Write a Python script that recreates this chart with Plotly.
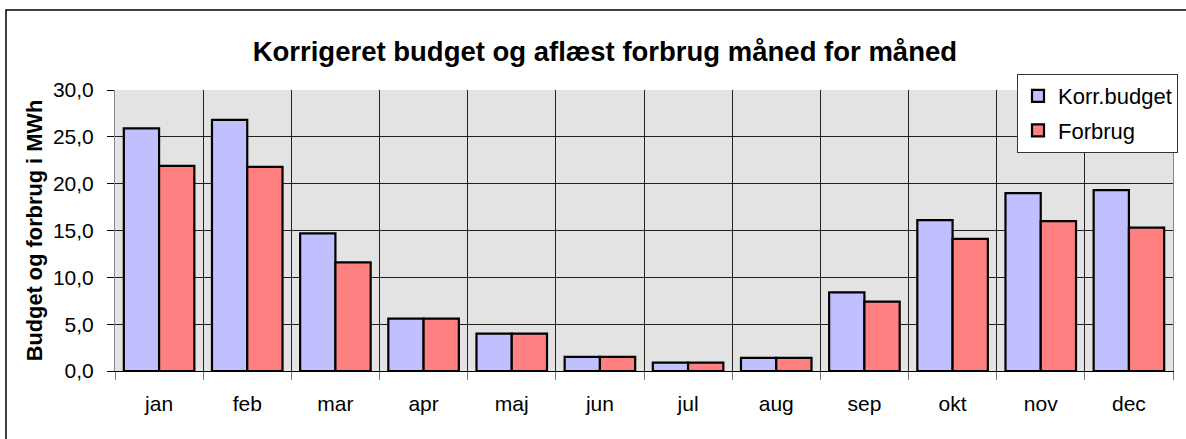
import plotly.graph_objects as go

months = ["jan", "feb", "mar", "apr", "maj", "jun", "jul", "aug", "sep", "okt", "nov", "dec"]
korr_budget = [25.9, 26.8, 14.7, 5.6, 4.0, 1.5, 0.9, 1.4, 8.4, 16.1, 19.0, 19.3]
forbrug = [21.9, 21.8, 11.6, 5.6, 4.0, 1.5, 0.9, 1.4, 7.4, 14.1, 16.0, 15.3]
y_ticks = [0, 5, 10, 15, 20, 25, 30]

FONT = "Liberation Sans, Arial, sans-serif"

fig = go.Figure()
fig.add_trace(go.Bar(x=months, y=korr_budget, name="Korr.budget", legendgroup="a",
                     marker=dict(color="#c0c0ff", line=dict(color="black", width=2.2))))
fig.add_trace(go.Bar(x=months, y=forbrug, name="Forbrug", legendgroup="b",
                     marker=dict(color="#ff8080", line=dict(color="black", width=2.2))))

fig.update_layout(
    width=1186, height=439,
    margin=dict(l=115, r=13, t=90, b=68, autoexpand=False),
    paper_bgcolor="white",
    plot_bgcolor="#e3e3e3",
    separators=",.",
    barmode="group",
    bargap=0.2,
    bargroupgap=0,
    font=dict(family=FONT, color="black", size=20),
    title=dict(text="<b>Korrigeret budget og aflæst forbrug måned for måned</b>",
               x=0.463, xanchor="center", xref="paper",
               y=1 - 51 / 439, yanchor="middle",
               font=dict(size=27.5, family=FONT)),
    legend=dict(x=(1017 - 115) / 1058, y=1 + (90 - 74) / 281,
                xanchor="left", yanchor="top",
                bgcolor="white", bordercolor="#333333", borderwidth=1,
                font=dict(size=22, family=FONT),
                traceorder="grouped", tracegroupgap=3,
                itemwidth=30),
    showlegend=True,
)

fig.update_xaxes(
    type="category",
    automargin=False,
    tickson="boundaries",
    ticks="outside", ticklen=8, tickcolor="#777777", tickwidth=1,
    showgrid=True, gridcolor="#222222", gridwidth=1,
    showline=True, linecolor="black", linewidth=1,
    tickfont=dict(size=21, family=FONT),
    ticklabelstandoff=14,
)
fig.update_yaxes(
    automargin=False,
    range=[0, 30],
    tickvals=y_ticks,
    tickformat=".1f",
    ticks="outside", ticklen=7, tickcolor="black",
    showgrid=True, gridcolor="#222222", gridwidth=1,
    showline=True, linecolor="#888888", linewidth=1, mirror=True,
    zeroline=False,
    tickfont=dict(size=21, family=FONT),
    ticklabelstandoff=9,
    title=dict(text="<b>Budget og forbrug i MWh</b>", standoff=4,
               font=dict(size=21.8, family=FONT)),
)

# outer chart-area border (Excel style)
fig.add_shape(type="rect", xref="paper", yref="paper",
              x0=(6 - 115) / 1058, x1=1.03, y0=-0.3, y1=1 + (90 - 10) / 281,
              line=dict(color="black", width=1.5), layer="below")

fig.write_html("out.html",
               config={"displayModeBar": False},
               post_script="document.body.style.margin='0px';document.body.style.padding='0px';")
